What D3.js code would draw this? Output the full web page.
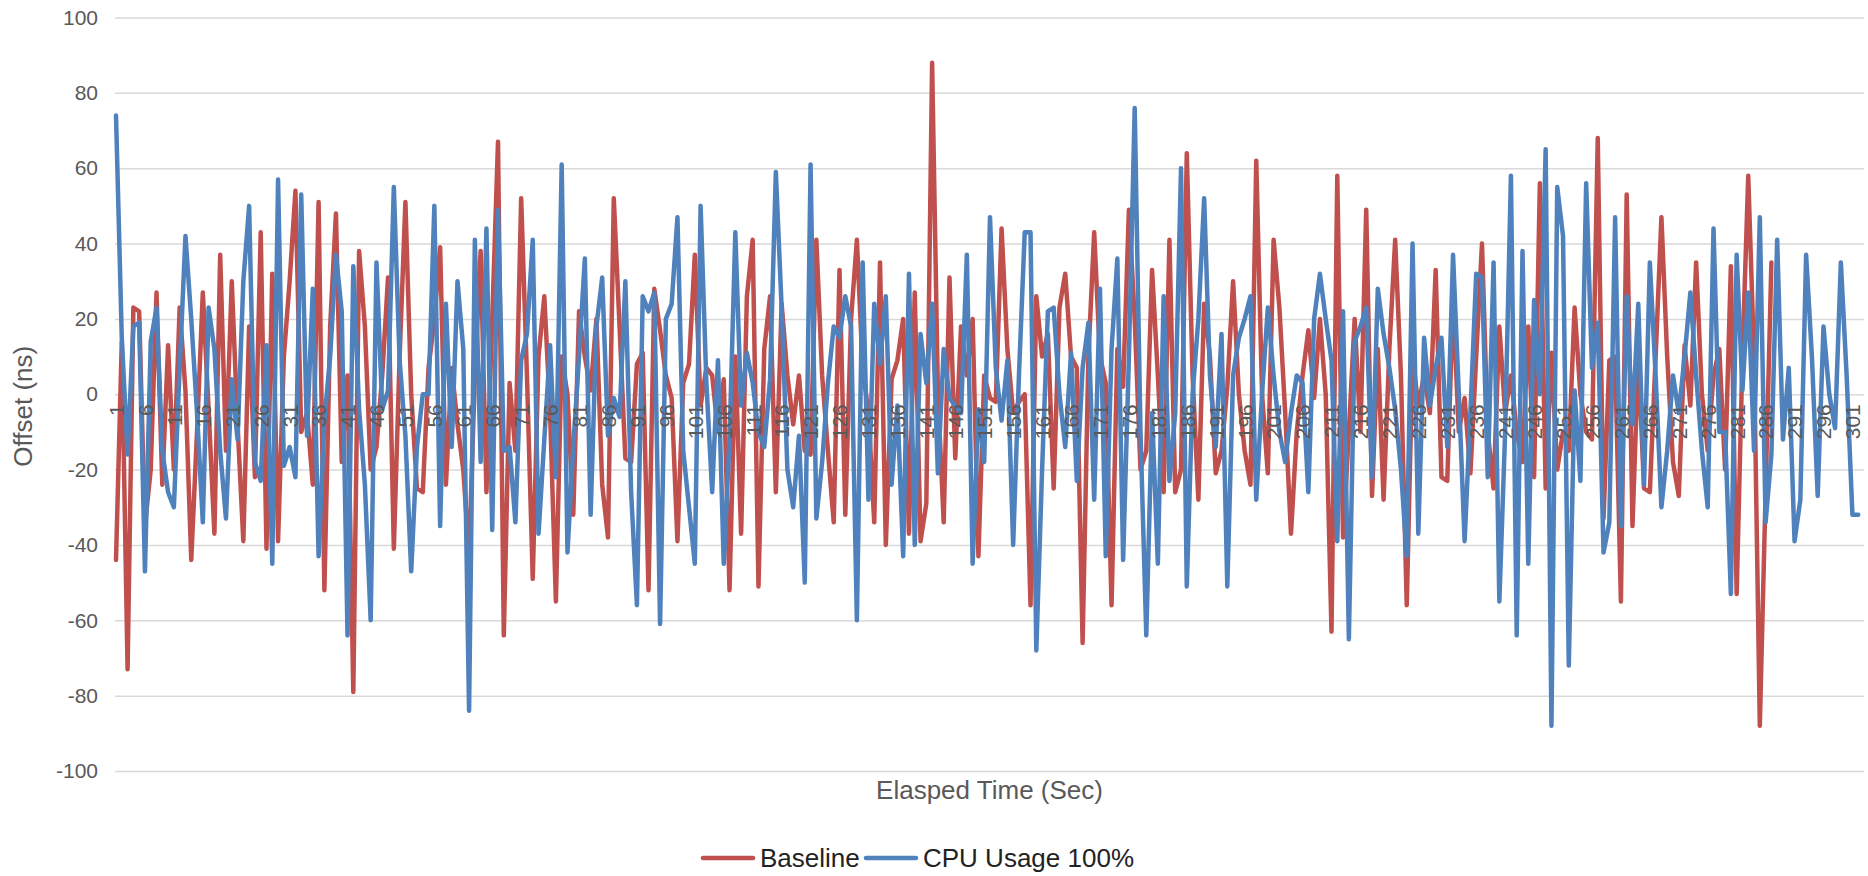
<!DOCTYPE html>
<html>
<head>
<meta charset="utf-8">
<script src="https://cdn.jsdelivr.net/npm/d3@7"></script>
<style>
  html, body { margin: 0; padding: 0; background: #fff; }
  text { font-family: "Liberation Sans", Arial, sans-serif; }
</style>
</head>
<body>
<div id="chart"></div>
<script>
// Offset chart - Baseline vs CPU Usage 100%

// --- Data ---
const baseline = [
  -44, 14, -73, 23, 22, -35, -20, 27, -24, 13, -20, 23, 1, -44, -10, 27, -4, -37, 37, -15,
  30, -8, -39, 18, -22, 43, -41, 32, -39, 10, 30, 54, -10, -5, -24, 51, -52, 18, 48, -18,
  5, -79, 38, 18, -20, -14, 5, 31, -41, 10, 51, 0, -25, -26, 7, 20, 39, -24, 7, -8,
  -20, -43, 5, 38, -26, 20, 67, -64, 3, -15, 52, 5, -49, 10, 26, -5, -55, 10, 0, -32,
  22, 10, 1, 20, -24, -38, 52, 18, -17, -18, 8, 11, -52, 28, 17, 5, -1, -39, 3, 8,
  37, -3, 7, 5, -10, 4, -52, 10, -37, 26, 41, -51, 12, 26, -26, 24, 5, -8, 5, -15,
  -16, 41, 5, -15, -34, 33, -32, 20, 41, 7, -5, -34, 35, -40, 4, 9, 20, -37, 27, -39,
  -29, 88, 0, -34, 31, -17, 18, 5, 20, -43, 5, -1, -2, 44, 12, -5, -2, 0, -56, 26,
  10, 16, -25, 23, 32, 10, 7, -66, 10, 43, 10, 3, -56, 12, 2, 49, 20, -20, -15, 33,
  5, -26, 41, -26, -20, 64, 5, -28, 24, 10, -21, -15, 2, 30, 0, -15, -24, 62, 0, -21,
  41, 23, -5, -37, -10, 5, 17, -1, 20, 0, -63, 58, -38, -10, 20, -10, 49, -27, 12, -28,
  12, 41, 5, -56, 10, -3, 5, -5, 33, -22, -23, 25, -10, -1, -21, 10, 40, -10, -25, 18,
  -5, 5, -10, -18, 18, -22, 56, -25, 11, -20, -10, -15, 23, 0, -10, -12, 68, -33, 9, 10,
  -55, 53, -35, 10, -25, -26, 10, 47, 10, -18, -27, 13, -3, 35, 0, -15, 5, 12, -20, 34,
  -53, 10, 58, 10, -88, -26, 35
];

const cpuUsage = [
  74, 15, -16, 18, 19, -47, 14, 23, -15, -26, -30, 7, 42, 20, -5, -34, 23, 12, -15, -33,
  4, -12, 30, 50, -18, -23, 13, -45, 57, -19, -14, -22, 53, -11, 28, -43, -7, 10, 37, 22,
  -64, 34, -4, -24, -60, 35, -4, 1, 55, 9, -11, -47, -14, 0, 0, 50, -35, 24, -14, 30,
  12, -84, 41, -18, 44, -36, 49, -15, -14, -34, 9, 16, 41, -37, -12, 13, -22, 61, -42, -14,
  10, 36, -32, 18, 31, -11, -1, -6, 30, -26, -56, 26, 22, 27, -61, 20, 24, 47, -15, -30,
  -45, 50, 3, -26, 9, -45, -12, 43, -3, 11, 3, -10, -14, 4, 59, 23, -20, -30, -11, -50,
  61, -33, -18, 3, 18, 15, 26, 18, -60, 35, -28, 24, 8, 26, -24, -3, -43, 32, -40, 16,
  3, 24, -21, 12, -1, -3, -5, 37, -45, -4, -18, 47, 7, -7, 9, -40, 5, 43, 43, -68,
  -20, 22, 23, 0, -14, 11, -23, 7, 19, -28, 28, -43, 12, 36, -44, 10, 76, -10, -64, -5,
  -45, 26, -23, -5, 60, -51, 0, 20, 52, 5, -14, 16, -51, 5, 15, 20, 26, -28, 0, 23,
  5, -10, -18, -5, 5, 3, -26, 20, 32, 20, 9, -39, 22, -65, 14, 18, 23, -22, 28, 16,
  7, -4, -20, -43, 40, -37, 15, -3, 7, 15, -14, 37, 0, -39, -5, 32, 31, -22, 35, -55,
  -10, 58, -64, 38, -45, 25, 0, 65, -88, 55, 42, -72, 1, -23, 56, 7, 19, -42, -34, 47,
  -35, 26, -8, 24, -24, 35, 5, -30, -15, 5, -5, 10, 27, 5, -15, -30, 44, -10, -10, -53,
  37, 1, 27, -15, 47, -34, -16, 41, -12, 7, -39, -28, 37, 10, -27, 18, 0, -9, 35, 5,
  -32, -32
];

const categories = d3.range(1, 304);            // elapsed seconds on the category axis
const xTickLabels = d3.range(1, 302, 5);        // 1, 6, 11 ... 301
const yTicks = [-100, -80, -60, -40, -20, 0, 20, 40, 60, 80, 100];
const seriesNames = ["Baseline", "CPU Usage 100%"];
const seriesColors = ["#C0504D", "#4F81BD"];

// --- Chart dimensions ---
const width = 1868;
const height = 876;
const plot = { left: 115, right: 1864, top: 17.5, bottom: 771 };

// --- Create SVG container ---
const svg = d3.select("#chart")
  .append("svg")
  .attr("width", width)
  .attr("height", height)
  .style("display", "block");

svg.append("rect")
  .attr("width", width)
  .attr("height", height)
  .attr("fill", "#fff");

// --- Scales ---
const x = d3.scalePoint()
  .domain(categories)
  .range([plot.left + 1, plot.right]);

const y = d3.scaleLinear()
  .domain([-100, 100])
  .range([plot.bottom, plot.top]);

// --- Y axis + gridlines ---
const yAxis = svg.append("g")
  .attr("transform", `translate(${plot.left},0)`)
  .call(d3.axisLeft(y)
    .tickValues(yTicks)
    .tickFormat(d => String(d))
    .tickSize(-(plot.right - plot.left))
    .tickPadding(17));

yAxis.select(".domain").remove();
yAxis.selectAll(".tick line")
  .attr("stroke", "#D9D9D9")
  .attr("stroke-width", 1.5);
yAxis.selectAll(".tick text")
  .attr("fill", "#595959")
  .style("font-size", "21px");

// --- Lines ---
const series = [baseline, cpuUsage];
const line = d3.line()
  .x((d, i) => x(categories[i]))
  .y(d => y(d));

svg.selectAll(".series")
  .data(series)
  .enter()
  .append("path")
  .attr("class", "series")
  .attr("d", line)
  .attr("fill", "none")
  .attr("stroke", (d, i) => seriesColors[i])
  .attr("stroke-width", 4.5)
  .attr("stroke-linejoin", "round")
  .attr("stroke-linecap", "round");

// --- X axis labels (sit on the zero line, rotated) ---
const xAxis = svg.append("g")
  .attr("transform", `translate(0,${y(0)})`)
  .call(d3.axisBottom(x).tickValues(xTickLabels).tickSize(0));

xAxis.select(".domain").remove();
xAxis.selectAll(".tick text")
  .attr("transform", "rotate(-90)")
  .attr("text-anchor", "end")
  .attr("x", -10)
  .attr("y", 0)
  .attr("dy", "0.35em")
  .attr("fill", "#595959")
  .style("font-size", "21px");

// --- Axis titles ---
svg.append("text")
  .attr("x", (plot.left + plot.right) / 2)
  .attr("y", 799)
  .attr("text-anchor", "middle")
  .attr("fill", "#595959")
  .style("font-size", "26px")
  .text("Elasped Time (Sec)");

svg.append("text")
  .attr("transform", `translate(32,${y(0) + 12}) rotate(-90)`)
  .attr("text-anchor", "middle")
  .attr("fill", "#595959")
  .style("font-size", "26px")
  .text("Offset (ns)");

// --- Legend ---
const legendX = [703, 866];
const legend = svg.selectAll(".legend")
  .data(seriesNames)
  .enter()
  .append("g")
  .attr("class", "legend")
  .attr("transform", (d, i) => `translate(${legendX[i]},858)`);

legend.append("line")
  .attr("x1", 0)
  .attr("x2", 50)
  .attr("stroke", (d, i) => seriesColors[i])
  .attr("stroke-width", 4.5)
  .attr("stroke-linecap", "round");

legend.append("text")
  .attr("x", 57)
  .attr("dy", "0.35em")
  .attr("fill", "#222")
  .style("font-size", "26px")
  .text(d => d);
</script>
</body>
</html>
